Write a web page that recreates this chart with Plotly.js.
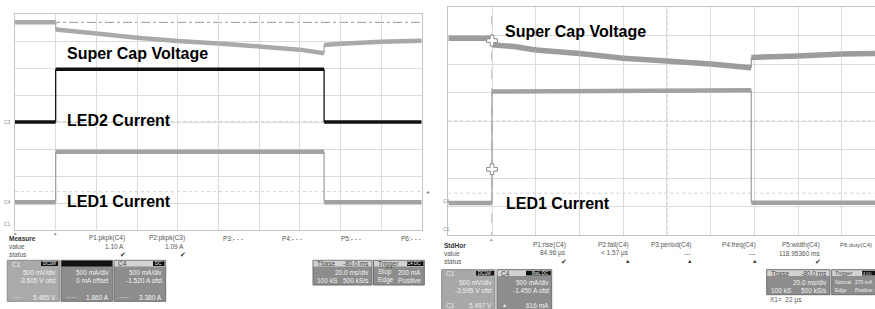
<!DOCTYPE html>
<html><head><meta charset="utf-8">
<script src="https://cdn.plot.ly/plotly-3.0.1.min.js"></script>
<style>html,body{margin:0;padding:0;background:#fff}#chart{width:875px;height:309px}</style>
</head><body><div id="chart"></div>
<script>
// ---- data (screen divisions) ----
const leftCapTime  = [0, 1, 1, 2, 3, 4, 5, 6, 7, 7.6, 7.6, 8, 9, 10];
const leftCapV     = [7.69, 7.69, 7.43, 7.28, 7.12, 7.0, 6.91, 6.8, 6.68, 6.55, 6.85, 6.9, 6.97, 7.01];
const leftPulseTime = [0, 1, 1, 7.6, 7.6, 10];
const leftLed2     = [4.0, 4.0, 5.95, 5.95, 4.0, 4.0];
const leftLed1     = [1.03, 1.03, 2.9, 2.9, 1.03, 1.03];
const leftCursorLevel = 7.69;
const leftTrigLevel = 1.42;

const rightCapTime = [0, 1, 1, 1.5, 2, 3, 4, 5, 6, 6.93, 6.93, 8, 9, 9.76];
const rightCapV    = [6.91, 6.91, 6.68, 6.62, 6.5, 6.38, 6.21, 6.11, 6.01, 5.88, 6.24, 6.29, 6.36, 6.38];
const rightPulseTime = [0, 1, 1, 6.93, 6.93, 9.76];
const rightLed1    = [1.12, 1.12, 5.04, 5.09, 1.13, 1.13];
const rightCursorTime = [1, 1];
const rightCursorLevel = [6.83, 2.31];
const rightTrigLevel = 1.47;

const leftMeasNames  = ['P1:pkpk(C4)', 'P2:pkpk(C3)', 'P3:- - -', 'P4:- - -', 'P5:- - -', 'P6:- - -'];
const leftMeasValues = ['1.10 A', '1.09 A', '', '', '', ''];
const leftMeasStatus = ['✔', '✔', '', '', '', ''];
const rightMeasNames  = ['P1:rise(C4)', 'P2:fall(C4)', 'P3:period(C4)', 'P4:freq(C4)', 'P5:width(C4)', 'P6:duty(C4)'];
const rightMeasValues = ['84.96 µs', '< 1.57 µs', '---', '---', '118.95360 ms', ''];
const rightMeasStatus = ['✔', '▲', '▲', '▲', '✔', ''];

// ---- helpers ----
const W = 875, H = 309;
const px = x => x / W, py = y => 1 - y / H;
function split(xs, ys) {
  const fx = [], fy = [], ex = [], ey = [];
  for (let i = 0; i < xs.length - 1; i++) {
    if (xs[i] === xs[i + 1]) { ex.push(xs[i], xs[i + 1], null); ey.push(ys[i], ys[i + 1], null); }
    else { fx.push(xs[i], xs[i + 1], null); fy.push(ys[i], ys[i + 1], null); }
  }
  return {fx, fy, ex, ey};
}
function pulseTraces(xs, ys, color, w, xa, ya) {
  const s = split(xs, ys);
  return [
    {x: s.ex, y: s.ey, xaxis: xa, yaxis: ya, mode: 'lines', line: {color: color, width: 1.3}, hoverinfo: 'skip'},
    {x: s.fx, y: s.fy, xaxis: xa, yaxis: ya, mode: 'lines', line: {color: color, width: w}, hoverinfo: 'skip'}
  ];
}

const gray = '#a2a2a2';
const traces = [];
traces.push(...pulseTraces(leftCapTime, leftCapV, '#a9a9a9', 4.5, 'x', 'y'));
traces.push(...pulseTraces(leftPulseTime, leftLed1, gray, 4.5, 'x', 'y'));
traces.push(...pulseTraces(leftPulseTime, leftLed2, '#111', 3.5, 'x', 'y'));
traces.push(...pulseTraces(rightCapTime, rightCapV, '#9c9c9c', 5.5, 'x2', 'y2'));
traces.push(...pulseTraces(rightPulseTime, rightLed1, gray, 4.5, 'x2', 'y2'));
traces.push({x: rightCursorTime, y: rightCursorLevel, xaxis: 'x2', yaxis: 'y2', mode: 'markers',
  marker: {symbol: 'cross', size: 9, color: '#fff', line: {color: '#888', width: 1}}, hoverinfo: 'skip'});

const axBase = {showgrid: true, gridcolor: '#dcdcdc', gridwidth: 1, dtick: 1, tick0: 0, showticklabels: false,
  ticks: '', zeroline: false, showline: true, linecolor: '#c4c4c4', linewidth: 1, fixedrange: true};

const shapes = [];
function centerLines(xa, ya, xmax) {
  shapes.push({type: 'line', xref: xa, yref: ya, x0: 5, x1: 5, y0: 0, y1: 8, layer: 'below', line: {color: '#a8a8a8', width: 1, dash: 'dot'}});
  shapes.push({type: 'line', xref: xa, yref: ya, x0: 0, x1: xmax, y0: 4, y1: 4, layer: 'below', line: {color: '#a8a8a8', width: 1, dash: 'dot'}});
}
centerLines('x', 'y', 10);
centerLines('x2', 'y2', 9.76);
shapes.push({type: 'line', xref: 'x', yref: 'y', x0: 0, x1: 10, y0: leftCursorLevel, y1: leftCursorLevel, layer: 'below', line: {color: '#9a9a9a', width: 1, dash: 'dashdot'}});
shapes.push({type: 'line', xref: 'x', yref: 'y', x0: 0, x1: 10, y0: leftTrigLevel, y1: leftTrigLevel, layer: 'below', line: {color: '#cfcfcf', width: 1, dash: 'dot'}});
shapes.push({type: 'line', xref: 'x2', yref: 'y2', x0: 0, x1: 9.76, y0: rightTrigLevel, y1: rightTrigLevel, layer: 'below', line: {color: '#cfcfcf', width: 1, dash: 'dot'}});
shapes.push({type: 'line', xref: 'x2', yref: 'y2', x0: rightCursorTime[0], x1: rightCursorTime[0], y0: -0.2, y1: 8, layer: 'below', line: {color: '#8a8a8a', width: 1, dash: 'dash'}});

const ann = [];
function T(x, y, text, opt) {
  opt = opt || {};
  ann.push({xref: 'paper', yref: 'paper', x: px(x), y: py(y), text: text, showarrow: false,
    xanchor: opt.xa || 'left', yanchor: 'middle',
    font: {family: 'Liberation Sans, Arial, sans-serif', size: opt.size || 6.5, color: opt.color || '#555', weight: opt.bold ? 'bold' : 'normal'}});
}
function R(x0, y0, x1, y1, fill, line) {
  shapes.push({type: 'rect', xref: 'paper', yref: 'paper', x0: px(x0), x1: px(x1), y0: py(y1), y1: py(y0),
    fillcolor: fill, line: {color: line || fill, width: line ? 1 : 0}, layer: 'above'});
}

// big labels (axis coordinates)
function L(xa, ya, x, y, text) {
  ann.push({xref: xa, yref: ya, x: x, y: y, text: '<b>' + text + '</b>', showarrow: false, xanchor: 'left', yanchor: 'middle',
    font: {family: 'Liberation Sans, Arial, sans-serif', size: 16, color: '#000'}});
}
L('x', 'y', 1.22, 6.52, 'Super Cap Voltage');
L('x', 'y', 1.22, 4.05, 'LED2 Current');
L('x', 'y', 1.22, 1.05, 'LED1 Current');
L('x2', 'y2', 1.26, 7.14, 'Super Cap Voltage');
L('x2', 'y2', 1.28, 1.11, 'LED1 Current');

// channel markers
T(2, 122, 'C3', {size: 5, color: '#888'});
T(2, 202, 'C4', {size: 5, color: '#888'});
T(2, 224, 'C1', {size: 5, color: '#888'});
T(424, 192, '◂', {size: 6, color: '#888'});
T(55, 233, '▴', {size: 5, color: '#888', xa: 'center'});
T(15, 233, '▴', {size: 5, color: '#888', xa: 'center'});
T(441, 201, 'C4', {size: 5, color: '#888'});
T(441, 229, 'C1', {size: 5, color: '#888'});
T(491.7, 239, '▴', {size: 5, color: '#888', xa: 'center'});

// ---- left info panel ----
T(7, 238, 'Measure', {bold: true, color: '#333'});
T(7, 246, 'value');
T(7, 254, 'status');
const lHeadR = [126.7, 186.7, 245, 304, 363, 423];
leftMeasNames.forEach((n, i) => {
  T(lHeadR[i], 238, n, {xa: 'right'});
  if (leftMeasValues[i]) T(lHeadR[i] - 1, 246, leftMeasValues[i], {xa: 'right'});
  if (leftMeasStatus[i]) T(lHeadR[i] - 4, 254, leftMeasStatus[i], {xa: 'center', size: 7, color: '#333'});
});
// C1 box
R(7.3, 260.3, 59.3, 301.3, '#aaaaaa', '#8c8c8c');
R(41, 261.5, 58, 266, '#111');
T(10, 264, 'C1', {color: '#eee', size: 6.5});
T(57.5, 263.8, 'DC1M', {xa: 'right', color: '#eee', size: 4.5});
T(58, 272, '500 mV/div', {xa: 'right', color: '#f2f2f2'});
T(58, 280, '-3.605 V ofst', {xa: 'right', color: '#f2f2f2'});
T(10, 297, '——', {color: '#ddd', size: 5});
T(58, 297, '5.465 V', {xa: 'right', color: '#f2f2f2'});
// C3 box
R(61, 260.3, 112.7, 301.3, '#8d8d8d', '#6f6f6f');
R(61.5, 260.8, 112.2, 266.5, '#111');
T(111, 272, '500 mA/div', {xa: 'right', color: '#f2f2f2'});
T(111, 280, '0 mA offset', {xa: 'right', color: '#f2f2f2'});
T(64, 297, '——', {color: '#ddd', size: 5});
T(111, 297, '1.860 A', {xa: 'right', color: '#f2f2f2'});
// C4 box
R(114, 260.3, 165.7, 301.3, '#8d8d8d', '#6f6f6f');
R(114.5, 260.8, 165.2, 266.5, '#d2d2d2');
R(153, 261.3, 164.5, 266, '#111');
T(116, 263.8, 'C4', {color: '#444'});
T(164, 263.8, 'DC', {xa: 'right', color: '#eee', size: 4.5});
T(164, 272, '500 mA/div', {xa: 'right', color: '#f2f2f2'});
T(164, 280, '-1.520 A ofst', {xa: 'right', color: '#f2f2f2'});
T(117, 297, '——', {color: '#ddd', size: 5});
T(164, 297, '3.380 A', {xa: 'right', color: '#f2f2f2'});
// Tbase box
R(313, 260.3, 372, 285, '#8d8d8d', '#6f6f6f');
R(313.5, 260.8, 371.5, 266.5, '#d2d2d2');
T(315, 263.8, 'Tbase', {color: '#444'});
T(371, 263.8, '-80.0 ms', {xa: 'right', color: '#444'});
T(371, 272, '20.0 ms/div', {xa: 'right', color: '#f2f2f2'});
T(315, 280, '100 kS', {color: '#f2f2f2'});
T(371, 280, '500 kS/s', {xa: 'right', color: '#f2f2f2'});
// Trigger box
R(373.5, 260.3, 424.3, 285, '#8d8d8d', '#6f6f6f');
R(374, 260.8, 423.8, 266.5, '#d2d2d2');
R(407, 261.3, 423.5, 266, '#111');
T(376, 263.8, 'Trigger', {color: '#444'});
T(423, 263.8, 'C4 DC', {xa: 'right', color: '#eee', size: 4.5});
T(376, 272, 'Stop', {color: '#f2f2f2'});
T(423, 272, '200 mA', {xa: 'right', color: '#f2f2f2'});
T(376, 280, 'Edge', {color: '#f2f2f2'});
T(423, 280, 'Positive', {xa: 'right', color: '#f2f2f2'});

// ---- right info panel ----
T(442, 245, 'StdHor', {bold: true, color: '#333'});
T(442, 253, 'value');
T(442, 261, 'status');
const rHeadR = [567.7, 631, 693, 758, 821.7, 874];
rightMeasNames.forEach((n, i) => {
  T(rHeadR[i], 245, n, {xa: 'right', size: i === 5 ? 6 : 6.5});
  if (rightMeasValues[i]) T(rHeadR[i], 253, rightMeasValues[i], {xa: 'right'});
  if (rightMeasStatus[i]) T(rHeadR[i] - 4, 261, rightMeasStatus[i], {xa: 'center', size: rightMeasStatus[i] === '▲' ? 5.5 : 7, color: '#333'});
});
// C1 box
R(441.7, 269.7, 495, 315, '#a8a8a8', '#8c8c8c');
R(476, 271, 494, 275.5, '#111');
T(444, 273.5, 'C1', {color: '#eee'});
T(493.5, 273.3, 'DC1M', {xa: 'right', color: '#eee', size: 4.5});
T(494, 282, '500 mV/div', {xa: 'right', color: '#f2f2f2'});
T(494, 290, '-3.995 V ofst', {xa: 'right', color: '#f2f2f2'});
T(444, 305, 'C1', {color: '#eee'});
T(494, 305, '5.497 V', {xa: 'right', color: '#eee'});
// C4 box
R(497, 269.7, 551.7, 315, '#8d8d8d', '#6f6f6f');
R(497.5, 270.2, 551.2, 276, '#d2d2d2');
R(526, 270.8, 550.8, 275.5, '#111');
T(499, 273.3, 'C4', {color: '#444'});
T(550.5, 273.3, 'BwL DC', {xa: 'right', color: '#eee', size: 4.5});
T(550.5, 282, '500 mA/div', {xa: 'right', color: '#f2f2f2'});
T(550.5, 290, '-1.450 A ofst', {xa: 'right', color: '#f2f2f2'});
T(500, 305, '▲', {color: '#eee', size: 5});
T(550.5, 305, '616 mA', {xa: 'right', color: '#eee'});
// Tbase
R(766.7, 269.7, 830, 294.7, '#8d8d8d', '#6f6f6f');
R(767.2, 270.2, 829.5, 276, '#d2d2d2');
T(769, 273.3, 'Tbase', {color: '#444'});
T(829, 273.3, '-80.0 ms', {xa: 'right', color: '#444'});
T(829, 282, '20.0 ms/div', {xa: 'right', color: '#f2f2f2'});
T(769, 290, '100 kS', {color: '#f2f2f2'});
T(829, 290, '500 kS/s', {xa: 'right', color: '#f2f2f2'});
// Trigger
R(831.7, 269.7, 880, 294.7, '#8d8d8d', '#6f6f6f');
R(832.2, 270.2, 879, 276, '#d2d2d2');
R(862, 270.8, 879, 275.5, '#111');
T(833, 273.3, 'Trigger', {color: '#444', size: 5.5});
T(874, 273.3, 'C4 DC', {xa: 'right', color: '#eee', size: 4});
T(833, 282, 'Normal', {color: '#f2f2f2', size: 5});
T(874.5, 282, '270 mA', {xa: 'right', color: '#f2f2f2', size: 5});
T(833, 290, 'Edge', {color: '#f2f2f2', size: 5});
T(874.5, 290, 'Positive', {xa: 'right', color: '#f2f2f2', size: 5});
T(768, 300, 'X1=  22 µs', {color: '#555'});

const layout = {
  width: W, height: H, margin: {l: 0, r: 0, t: 0, b: 0}, paper_bgcolor: '#fff', plot_bgcolor: '#fff',
  showlegend: false,
  xaxis: Object.assign({}, axBase, {domain: [px(15), px(421.7)], range: [0, 10], mirror: true, anchor: 'y'}),
  yaxis: Object.assign({}, axBase, {domain: [py(230), py(14)], range: [0, 8], mirror: true, anchor: 'x'}),
  xaxis2: Object.assign({}, axBase, {domain: [px(448.3), 1], range: [0, 9.76], mirror: true, anchor: 'y2'}),
  yaxis2: Object.assign({}, axBase, {domain: [py(235), py(7.3)], range: [0, 8], mirror: false, anchor: 'x2'}),
  shapes: shapes, annotations: ann
};
Plotly.newPlot('chart', traces, layout, {staticPlot: true, displayModeBar: false});
</script></body></html>
